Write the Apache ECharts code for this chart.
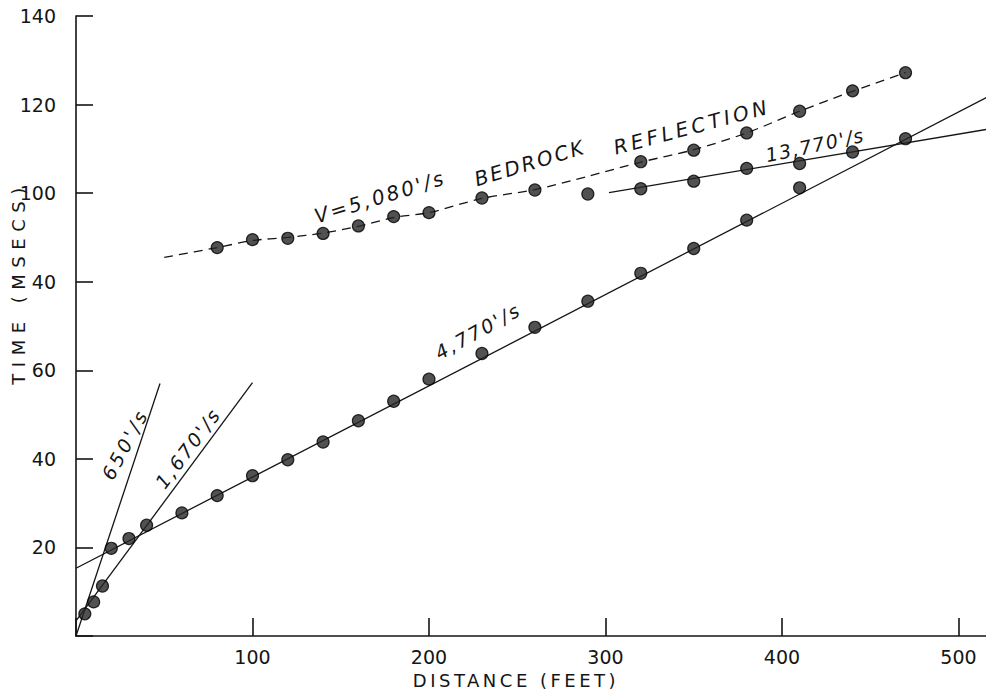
<!DOCTYPE html>
<html>
<head>
<meta charset="utf-8">
<title>Seismic travel time</title>
<script src="https://cdn.jsdelivr.net/npm/echarts@6.0.0/dist/echarts.min.js"></script>
<style>
  html, body { margin: 0; padding: 0; background: #fff; }
  #chart { width: 986px; height: 690px; }
</style>
</head>
<body>
<div id="chart"></div>
<script>
// first arrivals (lower branch, 650 / 1,670 / 4,770 ft/s)
const firstX = [5, 10, 15, 20, 30, 40, 60, 80, 100, 120, 140, 160, 180, 200, 230, 260, 290, 320, 350, 380, 410, 470];
const firstT = [5, 7.7, 11.3, 19.8, 22, 25, 27.8, 31.7, 36.2, 39.8, 43.8, 48.6, 53, 58, 63.8, 69.7, 75.6, 81.9, 87.5, 93.9, 101.2, 112.3];

// 13,770 ft/s refractor points
const refrX = [320, 350, 380, 410, 440];
const refrT = [101, 102.7, 105.6, 106.7, 109.3];

// bedrock reflection points
const reflX = [80, 100, 120, 140, 160, 180, 200, 230, 260, 290, 320, 350, 380, 410, 440, 470];
const reflT = [87.7, 89.5, 89.8, 90.9, 92.6, 94.7, 95.6, 98.9, 100.7, 99.8, 107.1, 109.7, 113.6, 118.5, 123.1, 127.2];

// dashed reflection curve as drawn
const curveX = [50, 80, 100, 120, 140, 160, 180, 200, 230, 260, 290, 320, 350, 380, 410, 440, 470];
const curveT = [85.5, 87.7, 89.3, 90, 91, 92.5, 94.5, 95.6, 98.8, 100.8, 103.8, 107, 109.8, 113.6, 118.5, 123, 127.2];

// fitted velocity lines (end points)
const line650 = [[0, 0], [47.6, 57]];
const line1670 = [[0, 3.4], [100, 57.2]];
const line4770 = [[0, 15.3], [516, 121.6]];
const line13770 = [[302, 100.1], [516, 114.4]];

// tick labels as printed (the 80 tick reads "40" on the original)
const yTickLabels = ['', '20', '40', '60', '40', '100', '120', '140'];
const xTickLabels = ['', '100', '200', '300', '400', '500'];

const zip = (xs, ys) => xs.map((x, i) => [x, ys[i]]);

const ink = '#151515';
const font = 'DejaVu Sans';

// hand lettering is widely spaced, applied to the svg text after render
const spacing = {};

const solidLine = (data) => ({
  type: 'line',
  data: data,
  showSymbol: false,
  silent: true,
  z: 2,
  lineStyle: { color: ink, width: 1.3 },
});

const dots = (data) => ({
  type: 'scatter',
  data: data,
  symbolSize: 12,
  z: 3,
  itemStyle: { color: '#262626', borderColor: '#000', borderWidth: 1.2 },
});

const note = (text, x, y, deg, size, gap, italic) => {
  spacing[text] = gap;
  return {
    type: 'text',
    x: x,
    y: y,
    rotation: deg * Math.PI / 180,
    style: {
      text: text,
      fill: ink,
      font: (italic === false ? '' : 'italic ') + size + 'px "' + font + '"',
      align: 'center',
      verticalAlign: 'middle',
    },
  };
};

const option = {
  backgroundColor: '#fff',
  animation: false,
  grid: { left: 76, right: 0, top: 16, bottom: 54, containLabel: false, outerBoundsMode: 'none' },
  xAxis: {
    type: 'value',
    min: 0,
    max: 515.6,
    interval: 100,
    axisLine: { show: true, lineStyle: { color: ink, width: 1.6 } },
    axisTick: { show: true, inside: true, length: 18, lineStyle: { color: ink, width: 1.6 } },
    axisLabel: {
      color: ink,
      fontFamily: font,
      fontSize: 19,
      margin: 11,
      showMaxLabel: false,
      formatter: (v) => xTickLabels[Math.round(v / 100)] || '',
    },
    splitLine: { show: false },
  },
  yAxis: {
    type: 'value',
    min: 0,
    max: 140,
    interval: 20,
    axisLine: { show: true, lineStyle: { color: ink, width: 1.6 } },
    axisTick: { show: true, inside: true, length: 17, lineStyle: { color: ink, width: 1.6 } },
    axisLabel: {
      color: ink,
      fontFamily: font,
      fontSize: 19,
      margin: 20,
      formatter: (v) => yTickLabels[Math.round(v / 20)] || '',
    },
    splitLine: { show: false },
  },
  series: [
    solidLine(line650),
    solidLine(line1670),
    solidLine(line4770),
    solidLine(line13770),
    {
      type: 'line',
      data: zip(curveX, curveT),
      smooth: 0.3,
      showSymbol: false,
      silent: true,
      z: 2,
      lineStyle: { color: ink, width: 1.3, type: [9, 6] },
    },
    dots(zip(firstX, firstT)),
    dots(zip(refrX, refrT)),
    dots(zip(reflX, reflT)),
  ],
  graphic: [
    note('DISTANCE (FEET)', 516, 680, 0, 18, 3.5, false),
    note('TIME (MSECS)', 18, 283, 90, 18, 6.5, false),
    note("650'/s", 125, 444, 62, 19, 3.3),
    note("1,670'/s", 188, 448, 53, 19, 2.4),
    note("4,770'/s", 478, 331, 29, 19, 2.4),
    note("13,770'/s", 815, 145, 12, 19, 1.4),
    note("V=5,080'/s", 380, 197, 17, 20, 2.6),
    note('BEDROCK', 530, 163, 17, 20, 2.4),
    note('REFLECTION', 692, 127, 15, 20, 3.7),
  ],
};

const chart = echarts.init(document.getElementById('chart'), null, { renderer: 'svg' });
chart.setOption(option);

const applySpacing = () => {
  document.querySelectorAll('#chart text').forEach((el) => {
    const gap = spacing[el.textContent];
    if (gap) el.setAttribute('letter-spacing', gap);
  });
};
chart.on('finished', applySpacing);
setTimeout(applySpacing, 0);
</script>
</body>
</html>
